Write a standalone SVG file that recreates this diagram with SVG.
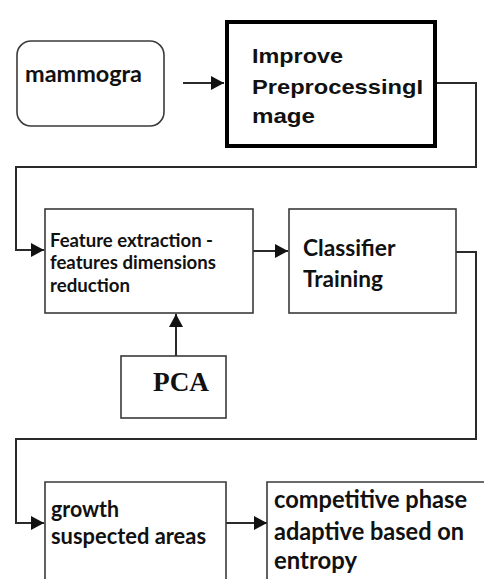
<svg xmlns="http://www.w3.org/2000/svg" width="484" height="579" viewBox="0 0 484 579">
<defs>
<style>
.box{fill:#fff;stroke:#3a3a3a;stroke-width:1.6}
.thick{fill:#fff;stroke:#000;stroke-width:4}
.conn{fill:none;stroke:#2a2a2a;stroke-width:2}
.cal{font-family:Lato,"Open Sans",sans-serif;font-weight:bold;fill:#111}
.ari{font-family:"Liberation Sans",Arial,sans-serif;font-weight:bold;fill:#111}
.tim{font-family:"Liberation Serif","Times New Roman",serif;font-weight:bold;fill:#111}
</style>
<marker id="ah" markerUnits="userSpaceOnUse" markerWidth="14" markerHeight="14" refX="13" refY="7" orient="auto">
<path d="M0,0 L13,7 L0,14 z" fill="#111"/>
</marker>
</defs>
<rect width="484" height="579" fill="#fff"/>
<g id="connectors">
<path class="conn" d="M183,83 H224" marker-end="url(#ah)"/>
<path class="conn" d="M437,83 H476 V167 H16 V250 H44" marker-end="url(#ah)"/>
<path class="conn" d="M176,356 V314" marker-end="url(#ah)"/>
<path class="conn" d="M248,251 H288" marker-end="url(#ah)"/>
<path class="conn" d="M456,252 H476 V439 H16 V523 H44" marker-end="url(#ah)"/>
<path class="conn" d="M226,523 H267" marker-end="url(#ah)"/>
</g>
<g id="mammogra">
<rect class="box" x="17" y="41" width="147" height="85" rx="14"/>
<text class="cal" x="25" y="82" font-size="22" textLength="117" lengthAdjust="spacingAndGlyphs">mammogra</text>
</g>
<g id="improve">
<rect class="thick" x="227" y="22" width="208" height="124"/>
<text class="ari" font-size="21">
<tspan x="252" y="63" textLength="91" lengthAdjust="spacingAndGlyphs">Improve</tspan>
<tspan x="252" y="94" textLength="171" lengthAdjust="spacingAndGlyphs">PreprocessingI</tspan>
<tspan x="252" y="123" textLength="63" lengthAdjust="spacingAndGlyphs">mage</tspan>
</text>
</g>
<g id="feature">
<rect class="box" x="45" y="209" width="208" height="104"/>
<text class="cal" font-size="19">
<tspan x="50" y="247" textLength="163" lengthAdjust="spacingAndGlyphs">Feature extraction -</tspan>
<tspan x="50" y="269" textLength="166" lengthAdjust="spacingAndGlyphs">features dimensions</tspan>
<tspan x="50" y="292" textLength="80" lengthAdjust="spacingAndGlyphs">reduction</tspan>
</text>
</g>
<g id="classifier">
<rect class="box" x="289" y="209" width="167" height="104"/>
<text class="cal" font-size="23">
<tspan x="303" y="256" textLength="92" lengthAdjust="spacingAndGlyphs">Classifier</tspan>
<tspan x="303" y="287" textLength="80" lengthAdjust="spacingAndGlyphs">Training</tspan>
</text>
</g>
<g id="pca">
<rect class="box" x="121" y="356" width="105" height="62"/>
<text class="tim" x="153" y="391" font-size="27" textLength="56" lengthAdjust="spacingAndGlyphs">PCA</text>
</g>
<g id="growth">
<path class="box" d="M45,579 V482 H226 V579" fill="none"/>
<text class="cal" font-size="22">
<tspan x="51" y="517" textLength="68" lengthAdjust="spacingAndGlyphs">growth</tspan>
<tspan x="51" y="544" textLength="155" lengthAdjust="spacingAndGlyphs">suspected areas</tspan>
</text>
</g>
<g id="competitive">
<path class="box" d="M267,579 V482 H484" fill="none"/>
<text class="cal" font-size="24">
<tspan x="274" y="508" textLength="193" lengthAdjust="spacingAndGlyphs">competitive phase</tspan>
<tspan x="274" y="540" textLength="190" lengthAdjust="spacingAndGlyphs">adaptive based on</tspan>
<tspan x="274" y="569" textLength="83" lengthAdjust="spacingAndGlyphs">entropy</tspan>
</text>
</g>
</svg>
